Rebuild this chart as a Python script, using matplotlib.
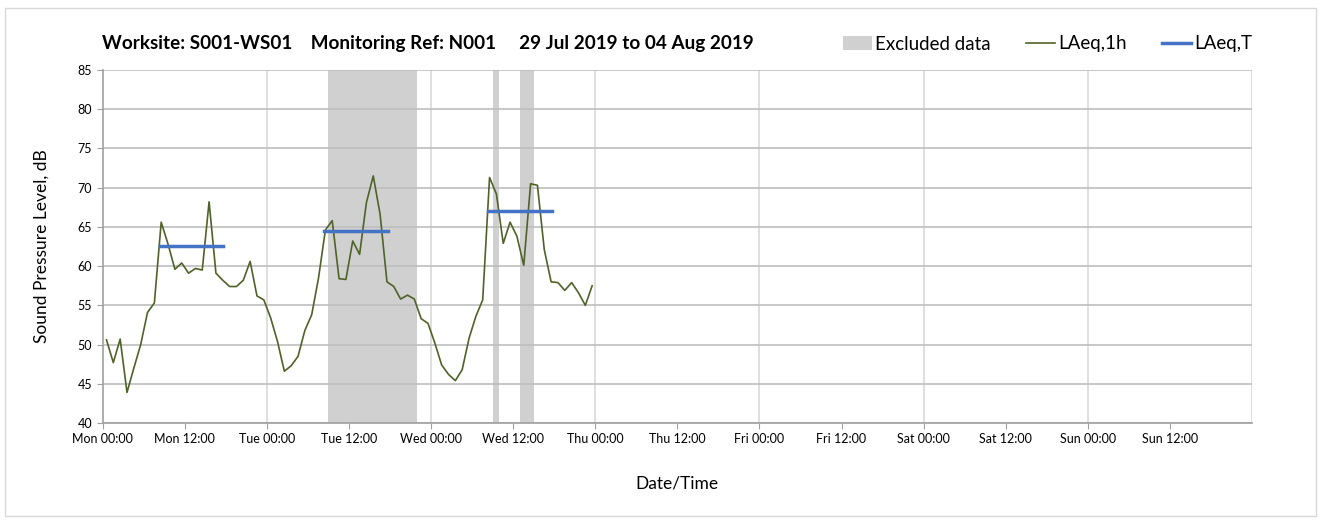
import numpy as np
import matplotlib
matplotlib.use("Agg")
import matplotlib.pyplot as plt
from matplotlib.patches import Patch, FancyBboxPatch
from matplotlib.lines import Line2D

plt.rcParams['font.family'] = ['Lato', 'DejaVu Sans']

# hourly LAeq,1h, hours since Mon 00:00 (plotted at mid-hour)
hours = np.arange(72) + 0.55
laeq_1h = [50.6, 47.7, 50.7, 43.9, 47.0, 50.0, 54.1, 55.3, 65.6, 62.8,
           59.6, 60.4, 59.1, 59.7, 59.5, 68.2, 59.1, 58.2, 57.4, 57.4,
           58.2, 60.6, 56.2, 55.7, 53.4, 50.4, 46.6, 47.3, 48.5, 51.8,
           53.8, 58.5, 64.6, 65.8, 58.4, 58.3, 63.2, 61.5, 68.1, 71.5,
           66.6, 58.0, 57.4, 55.8, 56.3, 55.8, 53.3, 52.7, 50.2, 47.4,
           46.2, 45.4, 46.8, 50.8, 53.6, 55.7, 71.3, 69.2, 62.9, 65.6,
           63.8, 60.1, 70.5, 70.3, 62.1, 58.0, 57.9, 56.9, 57.9, 56.6,
           55.0, 57.5]

# LAeq,T per day period
period_start = [8.35, 32.35, 56.35]
period_end = [17.65, 41.65, 65.65]
laeq_t = [62.6, 64.5, 67.0]

# excluded periods (hours)
excl_start = [33, 57, 61]
excl_end = [46, 58, 63]

days = ['Mon', 'Tue', 'Wed', 'Thu', 'Fri', 'Sat', 'Sun']
tick_labels = [f"{d} {h}" for d in days for h in ('00:00', '12:00')]

title = "Worksite: S001-WS01    Monitoring Ref: N001     29 Jul 2019 to 04 Aug 2019"

fig = plt.figure(figsize=(13.22, 5.20), dpi=100)
ax = fig.add_axes([0.0777, 0.1865, 0.8693, 0.6789])

# outer border
fig.patches.append(FancyBboxPatch((5 / 1322, 4 / 520), 1311 / 1322, 508 / 520,
                                  boxstyle="square,pad=0", transform=fig.transFigure,
                                  fill=False, edgecolor='#d9d9d9', linewidth=1))

for s, e in zip(excl_start, excl_end):
    ax.axvspan(s, e, color='#d0d0d0', lw=0, zorder=0.1)

ax.plot(hours, laeq_1h, color='#4f6228', lw=1.2, zorder=3)
for s, e, v in zip(period_start, period_end, laeq_t):
    ax.plot([s, e], [v, v], color='#4472c4', lw=2.5, zorder=4)

ax.set_xlim(0, 168)
ax.set_ylim(40, 85)
ax.set_yticks(np.arange(40, 86, 5))
ax.set_xticks(np.arange(0, 168, 12))
ax.set_xticklabels(tick_labels)
ax.tick_params(labelsize=9, length=4, color='#a0a0a0', colors='#000000')
ax.tick_params(axis='x', color='#a0a0a0')

ax.set_axisbelow(True)
ax.yaxis.grid(True, color='#bfbfbf', lw=1.2)
for d in range(24, 169, 24):
    ax.axvline(d, color='#d9d9d9', lw=1.2, zorder=0.5)

for side in ('top', 'right'):
    ax.spines[side].set_visible(False)
for side in ('left', 'bottom'):
    ax.spines[side].set_color('#a0a0a0')
    ax.spines[side].set_linewidth(1.2)

ax.set_ylabel("Sound Pressure Level, dB", fontsize=12.5, labelpad=20)
ax.set_xlabel("Date/Time", fontsize=12.5, labelpad=22)

fig.text(102 / 1322, 1 - 43 / 520, title, fontsize=13.6, fontweight='bold', va='center')

handles = [Patch(facecolor='#d0d0d0', edgecolor='none'),
           Line2D([], [], color='#4f6228', lw=1.2),
           Line2D([], [], color='#4472c4', lw=2.5)]
fig.legend(handles, ['Excluded data', 'LAeq,1h', 'LAeq,T'], loc='center left',
           bbox_to_anchor=(843 / 1322, 1 - 44 / 520), ncol=3, frameon=False,
           fontsize=13.5, handlelength=1.55, handletextpad=0.15, columnspacing=1.9,
           borderaxespad=0, borderpad=0)

fig.savefig("out.png", dpi=100)
